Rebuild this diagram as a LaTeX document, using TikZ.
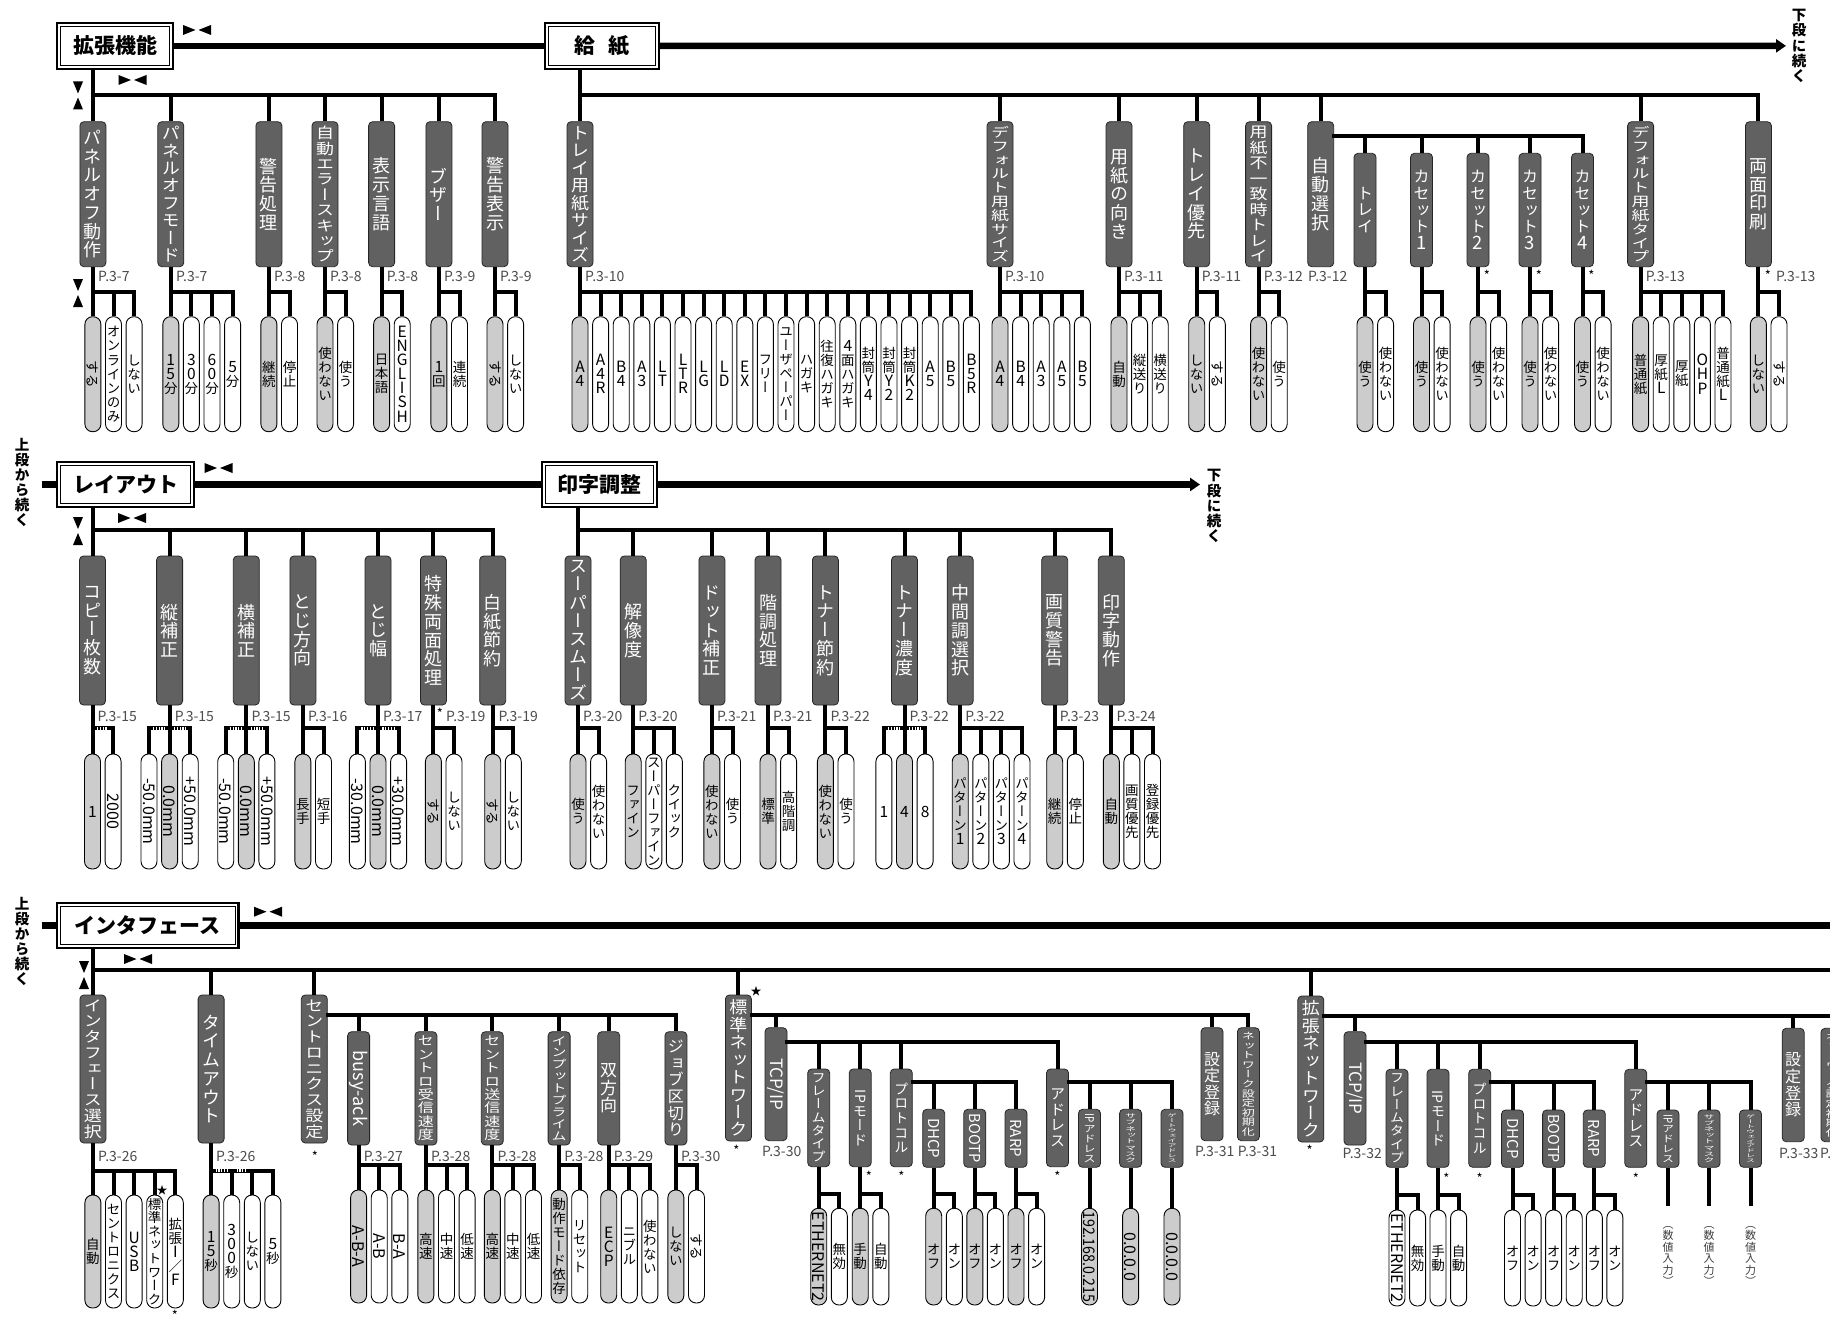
\documentclass[tikz,border=0pt]{standalone}
\usepackage{fontspec}
\usepackage{graphicx}
\setmainfont{Noto Sans CJK JP}
\newfontfamily\jph{Noto Sans CJK JP}
\newfontfamily\jpv[RawFeature=+vert]{Noto Sans CJK JP}
\usetikzlibrary{calc,arrows.meta}
\definecolor{og}{gray}{0.80}
\definecolor{ow}{gray}{1}
\definecolor{catg}{gray}{0.38}

\ExplSyntaxOn
\cs_new:Npn \my_vitem:n #1
  {
    \tl_if_single_token:nTF {#1}
      {
        \token_if_cs:NTF #1 {#1}
          { \int_compare:nNnTF {`#1} < {128} {\scalebox{1.15}{#1}} {#1} }
      }
      {#1}
  }
\NewDocumentCommand\vt{O{1.04}m}{
  \vbox{
    \baselineskip=#1em\relax
    \lineskiplimit=0pt\relax
    \lineskip=0.5pt\relax
    \tl_map_inline:nn {#2} {\hbox_to_wd:nn {1em} {\hss \my_vitem:n {##1} \hss}}
  }
}
\ExplSyntaxOff

\newsavebox\fitbox
\newcommand\fitv[2]{%
  \sbox\fitbox{#2}%
  \dimen0=\ht\fitbox \advance\dimen0 by \dp\fitbox
  \ifdim\dimen0>#1\relax
    \resizebox*{\wd\fitbox}{#1}{\usebox\fitbox}%
  \else\usebox\fitbox\fi}
\newcommand\rt[1]{\rotatebox[origin=c]{-90}{\jph #1}}
\newcommand\rp[1]{\rotatebox[origin=c]{-90}{\fontsize{16}{16}\jph #1}}
\newcommand\pf{\fontsize{13.5}{13.5}\jpv}

\tikzset{
  connv/.style={line width=4pt, line cap=butt, draw=black},
  connh/.style={line width=4pt, line cap=rect, draw=black},
  mainbus/.style={line width=6.5pt, draw=black},
  catbox/.style={draw=black!85, line width=0.8pt, fill=catg, rounded corners=4pt, inner sep=0pt, text=white},
  pillbox/.style={draw=black, line width=0.9pt, rounded corners=7.6pt, minimum width=16pt, inner sep=0pt},
  hdrbox/.style={draw=black, line width=2.2pt, fill=white, inner sep=0pt, font=\fontsize{21}{21}\selectfont\bfseries},
  plab/.style={anchor=west, inner sep=0pt, text=black!70, font=\fontsize{14}{14}\selectfont},
  astk/.style={inner sep=0pt, font=\fontsize{13}{13}\selectfont},
  stark/.style={inner sep=0pt, font=\fontsize{11}{11}\selectfont},
  vlab/.style={inner sep=0pt},
}

% \cat[font]{name}{x}{top}{bottom}{width}{content}
\newcommand\cat[7][18]{%
  \node[catbox, minimum width=#6pt, minimum height={(#5-#4)*1pt}] (#2) at ({#3},{(#4+#5)/2})
    {\fitv{\dimexpr #5pt-#4pt-9pt\relax}{\fontsize{#1}{#1}\jpv #7}};}

% \pill{name}{x}{top}{bottom}{fill}{content}
\newcommand\pill[6]{%
  \node[pillbox, fill=#5, minimum height={(#4-#3)*1pt}] (#1) at ({#2},{(#3+#4)/2})
    {\fitv{\dimexpr #4pt-#3pt-6pt\relax}{\pf #6}};}

% \opts{parent}{x0}{busY}{top}{bottom}{last index}{fill/content,...}
\newcommand\opts[7]{%
  \draw[connv] (#1.south) -- (#1.south |- 0,#3);%
  \foreach \f/\c [count=\i from 0] in {#7}{%
    \pill{#1-\i}{#2+20.6*\i}{#4}{#5}{\f}{\c}%
    \draw[connv] (#1-\i.north) -- (#1-\i.north |- 0,#3);%
  }%
  \draw[connh] (#1-0.north |- 0,#3) -- (#1-#6.north |- 0,#3);%
}
\newcommand\kids[2]{\foreach \n in {#2}{\draw[connv] (\n.north) -- (\n.north |- 0,#1);}}
\newcommand\hdr[6]{%
  \node[hdrbox, minimum width={(#4-#2)*1pt}, minimum height={(#5-#3)*1pt}] (#1) at ({(#2+#4)/2},{(#3+#5)/2}) {#6};
  \draw[line width=0.9pt] ($(#1.north west)+(4.5,4.5)$) rectangle ($(#1.south east)+(-4.5,-4.5)$);}
\newcommand\pl[4]{\node[plab] (#1) at (#2,#3) {#4};}
\newcommand\ak[3]{\node[astk] (#1) at (#2,#3) {*};}
\newcommand\dsh[3]{\draw[white, line width=2.6pt, dash pattern=on 1.2pt off 1.6pt] (#1,#2) -- (#3,#2);}
\newcommand\lrmark[2]{%
  \fill ({#1-14},{#2-5}) -- ({#1-1.5},{#2}) -- ({#1-14},{#2+5}) -- cycle;
  \fill ({#1+14},{#2-5}) -- ({#1+1.5},{#2}) -- ({#1+14},{#2+5}) -- cycle;}
\newcommand\udmark[2]{%
  \fill ({#1-5},{#2-14}) -- ({#1+5},{#2-14}) -- ({#1},{#2-2}) -- cycle;
  \fill ({#1-5},{#2+14}) -- ({#1+5},{#2+14}) -- ({#1},{#2+2}) -- cycle;}
\newcommand\vtext[4]{\node[vlab] (#1) at (#2,#3) {\fontsize{14.5}{14.5}\jpv\bfseries\vt{#4}};}

\begin{document}
\begin{tikzpicture}[x=1pt,y=-1pt]
\useasboundingbox (0,0) rectangle (1830,1319);
\fill[white] (0,0) rectangle (1830,1319);

%================ ROW 1 =================
\hdr{kakucho}{57.3}{22.7}{172.8}{69}{拡張機能}
\hdr{kyushi}{545}{22.7}{659}{69}{給\hspace{14pt}紙}
\coordinate (arr1) at (1786,45.85);
\draw[mainbus] (kakucho.east) -- (kyushi.west);
\draw[mainbus,-{Triangle[length=10pt,width=13pt]}] (kyushi.east) -- (arr1);
\vtext{cont1}{1799}{46}{下段に続く}
\lrmark{197}{30}
\lrmark{132.5}{80}
\udmark{78}{95.5}
\udmark{78}{293}

\cat{k1}{92.9}{121.7}{266.7}{26}{\vt{パネルオフ動作}}
\cat{k2}{170.8}{121.7}{266.7}{26}{\vt{パネルオフモード}}
\cat{k3}{268.9}{121.7}{266.7}{26}{\vt{警告処理}}
\cat{k4}{325}{121.7}{266.7}{26}{\vt{自動エラースキップ}}
\cat{k5}{381.6}{121.7}{266.7}{26}{\vt{表示言語}}
\cat{k6}{438.9}{121.7}{266.7}{26}{\vt{ブザー}}
\cat{k7}{495}{121.7}{266.7}{26}{\vt{警告表示}}
\draw[connv] (kakucho.south -| k1.north) -- (k1.north);
\draw[connh] (k1.north |- 0,95) -- (k7.north |- 0,95);
\kids{95}{k2,k3,k4,k5,k6,k7}

\opts{k1}{92.9}{291.7}{316.7}{431.7}{2}{og/\rt{する},ow/\vt{オンラインのみ},ow/\vt{しない}}
\opts{k2}{170.8}{291.7}{316.7}{431.7}{3}{og/\vt{15分},ow/\vt{30分},ow/\vt{60分},ow/\vt{5分}}
\opts{k3}{268.9}{291.7}{316.7}{431.7}{1}{og/\vt{継続},ow/\vt{停止}}
\opts{k4}{325}{291.7}{316.7}{431.7}{1}{og/\vt{使わない},ow/\vt{使う}}
\opts{k5}{381.6}{291.7}{316.7}{431.7}{1}{og/\vt{日本語},ow/\vt{ENGLISH}}
\opts{k6}{438.9}{291.7}{316.7}{431.7}{1}{og/\vt{1回},ow/\vt{連続}}
\opts{k7}{495}{291.7}{316.7}{431.7}{1}{og/\rt{する},ow/\vt{しない}}
\pl{pk1}{98}{276.7}{P.3-7}
\pl{pk2}{175.8}{276.7}{P.3-7}
\pl{pk3}{273.9}{276.7}{P.3-8}
\pl{pk4}{330}{276.7}{P.3-8}
\pl{pk5}{386.6}{276.7}{P.3-8}
\pl{pk6}{443.9}{276.7}{P.3-9}
\pl{pk7}{500}{276.7}{P.3-9}

\cat{s1}{580}{121.7}{266.7}{26}{\vt{トレイ用紙サイズ}}
\cat{s2}{1000}{121.7}{266.7}{26}{\vt{デフォルト用紙サイズ}}
\cat{s3}{1119}{121.7}{266.7}{26}{\vt{用紙の向き}}
\cat{s4}{1196.7}{121.7}{266.7}{26}{\vt{トレイ優先}}
\cat{s5}{1258.6}{121.7}{266.7}{26}{\vt{用紙不一致時トレイ}}
\cat{s6}{1320.7}{121.7}{266.7}{26}{\vt{自動選択}}
\cat{s7}{1640.6}{121.7}{266.7}{26}{\vt{デフォルト用紙タイプ}}
\cat{s8}{1758.4}{121.7}{266.7}{26}{\vt{両面印刷}}
\draw[connv] (kyushi.south -| s1.north) -- (s1.north);
\draw[connh] (s1.north |- 0,95) -- (s8.north |- 0,95);
\kids{95}{s2,s3,s4,s5,s6,s7,s8}
\cat[16]{a1}{1365}{153.3}{266.7}{22}{\vt{トレイ}}
\cat[16]{a2}{1421.5}{153.3}{266.7}{22}{\vt{カセット1}}
\cat[16]{a3}{1478}{153.3}{266.7}{22}{\vt{カセット2}}
\cat[16]{a4}{1530}{153.3}{266.7}{22}{\vt{カセット3}}
\cat[16]{a5}{1582.5}{153.3}{266.7}{22}{\vt{カセット4}}
\draw[connh] (s6.east |- 0,136) -- (a5.north |- 0,136);
\kids{136}{a1,a2,a3,a4,a5}

\opts{s1}{580}{291.7}{316.7}{431.7}{19}{og/\vt{A4},ow/\vt{A4R},ow/\vt{B4},ow/\vt{A3},ow/\vt{LT},ow/\vt{LTR},ow/\vt{LG},ow/\vt{LD},ow/\vt{EX},ow/\vt{フリー},ow/\vt{ユーザペーパー},ow/\vt{ハガキ},ow/\vt{往復ハガキ},ow/\vt{4面ハガキ},ow/\vt{封筒Y4},ow/\vt{封筒Y2},ow/\vt{封筒K2},ow/\vt{A5},ow/\vt{B5},ow/\vt{B5R}}
\opts{s2}{1000}{291.7}{316.7}{431.7}{4}{og/\vt{A4},ow/\vt{B4},ow/\vt{A3},ow/\vt{A5},ow/\vt{B5}}
\opts{s3}{1119}{291.7}{316.7}{431.7}{2}{og/\vt{自動},ow/\vt{縦送り},ow/\vt{横送り}}
\opts{s4}{1196.7}{291.7}{316.7}{431.7}{1}{og/\vt{しない},ow/\rt{する}}
\opts{s5}{1258.6}{291.7}{316.7}{431.7}{1}{og/\vt{使わない},ow/\vt{使う}}
\opts{a1}{1365}{291.7}{316.7}{431.7}{1}{og/\vt{使う},ow/\vt{使わない}}
\opts{a2}{1421.5}{291.7}{316.7}{431.7}{1}{og/\vt{使う},ow/\vt{使わない}}
\opts{a3}{1478}{291.7}{316.7}{431.7}{1}{og/\vt{使う},ow/\vt{使わない}}
\opts{a4}{1530}{291.7}{316.7}{431.7}{1}{og/\vt{使う},ow/\vt{使わない}}
\opts{a5}{1582.5}{291.7}{316.7}{431.7}{1}{og/\vt{使う},ow/\vt{使わない}}
\opts{s7}{1640.6}{291.7}{316.7}{431.7}{4}{og/\vt{普通紙},ow/\vt{厚紙L},ow/\vt{厚紙},ow/\vt{OHP},ow/\vt{普通紙L}}
\opts{s8}{1758.4}{291.7}{316.7}{431.7}{1}{og/\vt{しない},ow/\rt{する}}
\pl{ps1}{585}{276.7}{P.3-10}
\pl{ps2}{1005}{276.7}{P.3-10}
\pl{ps3}{1124}{276.7}{P.3-11}
\pl{ps4}{1201.7}{276.7}{P.3-11}
\pl{ps5}{1263.6}{276.7}{P.3-12}
\pl{ps6}{1308}{276.7}{P.3-12}
\pl{ps7}{1645.6}{276.7}{P.3-13}
\ak{as8}{1768}{275}
\pl{ps8}{1776}{276.7}{P.3-13}
\ak{aa3}{1487}{275}
\ak{aa4}{1539}{275}
\ak{aa5}{1591.5}{275}

%================ ROW 2 =================
\hdr{layout}{57.3}{461.7}{193.7}{507.3}{レイアウト}
\hdr{inji}{541.7}{461.7}{657.3}{507.3}{印字調整}
\coordinate (stub2) at (41.5,484.5);
\coordinate (arr2) at (1200,484.5);
\draw[mainbus] (stub2) -- (layout.west);
\draw[mainbus] (layout.east) -- (inji.west);
\draw[mainbus,-{Triangle[length=10pt,width=13pt]}] (inji.east) -- (arr2);
\vtext{from2}{22}{482.5}{上段から続く}
\vtext{cont2}{1214}{506}{下段に続く}
\lrmark{218.5}{468}
\lrmark{132}{518}
\udmark{78}{531}

\cat{l1}{92.5}{556}{705}{26}{\vt{コピー枚数}}
\cat{l2}{169.6}{556}{705}{26}{\vt{縦補正}}
\cat{l3}{246.3}{556}{705}{26}{\vt{横補正}}
\cat{l4}{302.9}{556}{705}{26}{\vt{とじ方向}}
\cat{l5}{378}{556}{705}{26}{\vt{とじ幅}}
\cat{l6}{433.4}{556}{705}{26}{\vt{特殊両面処理}}
\cat{l7}{492.7}{556}{705}{26}{\vt{白紙節約}}
\draw[connv] (layout.south -| l1.north) -- (l1.north);
\draw[connh] (l1.north |- 0,530) -- (l7.north |- 0,530);
\kids{530}{l2,l3,l4,l5,l6,l7}

\opts{l1}{92.5}{728.3}{754}{869}{1}{og/\vt{1},ow/\rp{2000}}
\opts{l2}{149}{728.3}{754}{869}{2}{ow/\rp{-50.0mm},og/\rp{0.0mm},ow/\rp{+50.0mm}}
\opts{l3}{225.7}{728.3}{754}{869}{2}{ow/\rp{-50.0mm},og/\rp{0.0mm},ow/\rp{+50.0mm}}
\opts{l4}{302.9}{728.3}{754}{869}{1}{og/\vt{長手},ow/\vt{短手}}
\opts{l5}{357.4}{728.3}{754}{869}{2}{ow/\rp{-30.0mm},og/\rp{0.0mm},ow/\rp{+30.0mm}}
\opts{l6}{433.4}{728.3}{754}{869}{1}{og/\rt{する},ow/\vt{しない}}
\opts{l7}{492.7}{728.3}{754}{869}{1}{og/\rt{する},ow/\vt{しない}}
\dsh{97}{728.3}{108}
\dsh{153}{728.3}{165}\dsh{174}{728.3}{186}
\dsh{229.7}{728.3}{241.7}\dsh{250.7}{728.3}{262.7}
\dsh{361.4}{728.3}{373.4}\dsh{382.4}{728.3}{394.4}
\pl{pl1}{97.5}{716}{P.3-15}
\pl{pl2}{174.6}{716}{P.3-15}
\pl{pl3}{251.3}{716}{P.3-15}
\pl{pl4}{307.9}{716}{P.3-16}
\pl{pl5}{383}{716}{P.3-17}
\ak{al6}{440}{713}
\pl{pl6}{446}{716}{P.3-19}
\pl{pl7}{498.5}{716}{P.3-19}

\cat{i1}{578}{556}{705}{26}{\vt{スーパースムーズ}}
\cat{i2}{633.2}{556}{705}{26}{\vt{解像度}}
\cat{i3}{711.9}{556}{705}{26}{\vt{ドット補正}}
\cat{i4}{768}{556}{705}{26}{\vt{階調処理}}
\cat{i5}{825.4}{556}{705}{26}{\vt{トナー節約}}
\cat{i6}{904.5}{556}{705}{26}{\vt{トナー濃度}}
\cat{i7}{960.2}{556}{705}{26}{\vt{中間調選択}}
\cat{i8}{1054.7}{556}{705}{26}{\vt{画質警告}}
\cat{i9}{1111.3}{556}{705}{26}{\vt{印字動作}}
\draw[connv] (inji.south -| i1.north) -- (i1.north);
\draw[connh] (i1.north |- 0,530) -- (i9.north |- 0,530);
\kids{530}{i2,i3,i4,i5,i6,i7,i8,i9}

\opts{i1}{578}{728.3}{754}{869}{1}{og/\vt{使う},ow/\vt{使わない}}
\opts{i2}{633.2}{728.3}{754}{869}{2}{og/\vt{ファイン},ow/\vt{スーパーファイン},ow/\vt{クイック}}
\opts{i3}{711.9}{728.3}{754}{869}{1}{og/\vt{使わない},ow/\vt{使う}}
\opts{i4}{768}{728.3}{754}{869}{1}{og/\vt{標準},ow/\vt{高階調}}
\opts{i5}{825.4}{728.3}{754}{869}{1}{og/\vt{使わない},ow/\vt{使う}}
\opts{i6}{883.9}{728.3}{754}{869}{2}{ow/\vt{1},og/\vt{4},ow/\vt{8}}
\opts{i7}{960.2}{728.3}{754}{869}{3}{og/\vt{パターン1},ow/\vt{パターン2},ow/\vt{パターン3},ow/\vt{パターン4}}
\opts{i8}{1054.7}{728.3}{754}{869}{1}{og/\vt{継続},ow/\vt{停止}}
\opts{i9}{1111.3}{728.3}{754}{869}{2}{og/\vt{自動},ow/\vt{画質優先},ow/\vt{登録優先}}
\dsh{887.9}{728.3}{899.9}\dsh{908.9}{728.3}{920.9}
\pl{pi1}{583}{716}{P.3-20}
\pl{pi2}{638.2}{716}{P.3-20}
\pl{pi3}{716.9}{716}{P.3-21}
\pl{pi4}{773}{716}{P.3-21}
\pl{pi5}{830.4}{716}{P.3-22}
\pl{pi6}{909.5}{716}{P.3-22}
\pl{pi7}{965.2}{716}{P.3-22}
\pl{pi8}{1059.7}{716}{P.3-23}
\pl{pi9}{1116.3}{716}{P.3-24}

%================ ROW 3 =================
\hdr{intf}{57.3}{902.7}{238.4}{948.3}{インタフェース}
\coordinate (stub3) at (41.5,925.5);
\coordinate (end3) at (1836,925.5);
\draw[mainbus] (stub3) -- (intf.west);
\draw[mainbus] (intf.east) -- (end3);
\vtext{from3}{22}{941.5}{上段から続く}
\lrmark{268}{911.7}
\lrmark{138}{959}
\udmark{84}{975}

\cat{f1}{92.9}{995}{1143}{26}{\vt{インタフェース選択}}
\cat{f2}{211.1}{995}{1143}{26}{\vt{タイムアウト}}
\cat{f3}{314.3}{995}{1143}{26}{\vt{セントロニクス設定}}
\cat{f4}{738.4}{995}{1141}{26}{\vt{標準ネットワーク}}
\cat{f5}{1310.8}{996}{1142}{26}{\vt{拡張ネットワーク}}
\coordinate (end3b) at (1836,969.5);
\draw[connv] (intf.south -| f1.north) -- (f1.north);
\draw[connh] (f1.north |- 0,969.5) -- (end3b);
\kids{969.5}{f2,f3,f4,f5}

\opts{f1}{92.9}{1170.7}{1195}{1308}{4}{og/\vt{自動},ow/\vt{セントロニクス},ow/\vt{USB},ow/\vt{標準ネットワーク},ow/\vt{拡張I{\jph ／}F}}
\opts{f2}{211.1}{1170.7}{1195}{1308}{3}{og/\vt{15秒},ow/\vt{300秒},ow/\vt{しない},ow/\vt{5秒}}
\dsh{215.5}{1170.7}{227}\dsh{236.5}{1170.7}{247.5}
\node[stark] (st1) at (162,1190) {★};
\ak{af1}{175}{1315}
\pl{pf1}{98}{1156}{P.3-26}
\pl{pf2}{216}{1156}{P.3-26}
\ak{af3}{315}{1156}

\cat[18]{c1}{358.6}{1031.7}{1145}{22}{\rt{busy-ack}}
\cat[16]{c2}{425.9}{1031.7}{1145}{22}{\vt{セントロ受信速度}}
\cat[16]{c3}{492.3}{1031.7}{1145}{22}{\vt{セントロ送信速度}}
\cat[15]{c4}{559.1}{1031.7}{1145}{22}{\vt{インプットプライム}}
\cat[17]{c5}{608.7}{1031.7}{1145}{22}{\vt{双方向}}
\cat[16]{c6}{675.9}{1031.7}{1145}{22}{\vt{ジョブ区切り}}
\draw[connh] (f3.east |- 0,1015) -- (c6.north |- 0,1015);
\kids{1015}{c1,c2,c3,c4,c5,c6}
\opts{c1}{358.6}{1165}{1190}{1303}{2}{og/\rp{A-B-A},ow/\rp{A-B},ow/\rp{B-A}}
\opts{c2}{425.9}{1165}{1190}{1303}{2}{og/\vt{高速},ow/\vt{中速},ow/\vt{低速}}
\opts{c3}{492.3}{1165}{1190}{1303}{2}{og/\vt{高速},ow/\vt{中速},ow/\vt{低速}}
\opts{c4}{559.1}{1165}{1190}{1303}{1}{og/\vt{動作モード依存},ow/\vt{リセット}}
\opts{c5}{608.7}{1165}{1190}{1303}{2}{og/\vt{ECP},ow/\vt{ニブル},ow/\vt{使わない}}
\opts{c6}{675.9}{1165}{1190}{1303}{1}{og/\vt{しない},ow/\rt{する}}
\pl{pc1}{363.6}{1156}{P.3-27}
\pl{pc2}{430.9}{1156}{P.3-28}
\pl{pc3}{497.3}{1156}{P.3-28}
\pl{pc4}{564.1}{1156}{P.3-28}
\pl{pc5}{613.7}{1156}{P.3-29}
\pl{pc6}{680.9}{1156}{P.3-30}

% standard network
\ak{af4}{736.4}{1150}
\node[stark] (st2) at (756,991.7) {★};
\cat[17]{n1}{776}{1027.7}{1140.7}{22}{\rt{TCP/IP}}
\cat[16]{n2}{1212}{1027.7}{1140.7}{22}{\vt{設定登録}}
\cat[13]{n3}{1248.4}{1027.7}{1140.7}{22}{\vt{ネットワーク設定初期化}}
\draw[connh] (f4.east |- 0,1015) -- (n3.north |- 0,1015);
\kids{1015}{n1,n2,n3}
\pl{pn1}{762}{1151}{P.3-30}
\pl{pn2}{1195}{1151.7}{P.3-31}
\pl{pn3}{1237.7}{1151.7}{P.3-31}
\cat[14]{t1}{818.7}{1069}{1166.7}{22}{\vt{フレームタイプ}}
\cat[14]{t2}{860.2}{1069}{1166.7}{22}{\vt{{\rt{IP}}モード}}
\cat[14]{t3}{901.3}{1069}{1166.7}{22}{\vt{プロトコル}}
\cat[15]{t4}{1057.5}{1069}{1166.7}{22}{\vt{アドレス}}
\draw[connh] (n1.east |- 0,1042.3) -- (t4.north |- 0,1042.3);
\kids{1042.3}{t1,t2,t3,t4}
\cat[15]{r1}{933.7}{1109.3}{1167.3}{22}{\rt{DHCP}}
\cat[15]{r2}{974.8}{1109.3}{1167.3}{22}{\rt{BOOTP}}
\cat[15]{r3}{1016}{1109.3}{1167.3}{22}{\rt{RARP}}
\draw[connh] (t3.east |- 0,1082.3) -- (r3.north |- 0,1082.3);
\kids{1082.3}{r1,r2,r3}
\cat[12]{d1}{1089.5}{1109.3}{1167.3}{22}{\vt{{\rt{IP}}アドレス}}
\cat[11]{d2}{1130.6}{1109.3}{1167.3}{22}{\vt{サブネットマスク}}
\cat[9]{d3}{1172}{1109.3}{1167.3}{22}{\vt{ゲートウェイアドレス}}
\draw[connh] (t4.east |- 0,1082.3) -- (d3.north |- 0,1082.3);
\kids{1082.3}{d1,d2,d3}
\opts{t1}{818.7}{1194}{1208.3}{1305}{1}{og/\rp{ETHERNET2},ow/\vt{無効}}
\opts{t2}{860.2}{1194}{1208.3}{1305}{1}{og/\vt{手動},ow/\vt{自動}}
\opts{r1}{933.7}{1194}{1208.3}{1305}{1}{og/\vt{オフ},ow/\vt{オン}}
\opts{r2}{974.8}{1194}{1208.3}{1305}{1}{og/\vt{オフ},ow/\vt{オン}}
\opts{r3}{1016}{1194}{1208.3}{1305}{1}{og/\vt{オフ},ow/\vt{オン}}
\opts{d1}{1089.5}{1194}{1208.3}{1305}{0}{og/\rp{192.168.0.215}}
\opts{d2}{1130.6}{1194}{1208.3}{1305}{0}{og/\rp{0.0.0.0}}
\opts{d3}{1172}{1194}{1208.3}{1305}{0}{og/\rp{0.0.0.0}}
\ak{at2}{869}{1176.7}
\ak{at3}{901.3}{1176.7}
\ak{at4}{1057.5}{1176.7}

% extended network
\ak{af5}{1309.6}{1150}
\cat[17]{e1}{1355}{1031.7}{1145}{22}{\rt{TCP/IP}}
\cat[16]{e2}{1793.2}{1028.3}{1141.7}{22}{\vt{設定登録}}
\cat[13]{e3}{1832}{1028.3}{1141.7}{22}{\vt{ネットワーク設定初期化}}
\coordinate (end3c) at (1836,1015.7);
\draw[connh] (f5.east |- 0,1015.7) -- (end3c);
\kids{1015.7}{e1,e2,e3}
\pl{pe1}{1342.5}{1153}{P.3-32}
\pl{pe2}{1779}{1153}{P.3-33}
\pl{pe3}{1820}{1153}{P.}
\cat[14]{u1}{1397}{1069.3}{1167.3}{22}{\vt{フレームタイプ}}
\cat[14]{u2}{1438}{1069.3}{1167.3}{22}{\vt{{\rt{IP}}モード}}
\cat[14]{u3}{1479.7}{1069.3}{1167.3}{22}{\vt{プロトコル}}
\cat[15]{u4}{1635.8}{1069.3}{1167.3}{22}{\vt{アドレス}}
\draw[connh] (e1.east |- 0,1042.3) -- (u4.north |- 0,1042.3);
\kids{1042.3}{u1,u2,u3,u4}
\cat[15]{v1}{1512.5}{1110}{1167.3}{22}{\rt{DHCP}}
\cat[15]{v2}{1553.6}{1110}{1167.3}{22}{\rt{BOOTP}}
\cat[15]{v3}{1594.3}{1110}{1167.3}{22}{\rt{RARP}}
\draw[connh] (u3.east |- 0,1082.3) -- (v3.north |- 0,1082.3);
\kids{1082.3}{v1,v2,v3}
\cat[12]{w1}{1668}{1110}{1167.3}{22}{\vt{{\rt{IP}}アドレス}}
\cat[11]{w2}{1709}{1110}{1167.3}{22}{\vt{サブネットマスク}}
\cat[9]{w3}{1750.5}{1110}{1167.3}{22}{\vt{ゲートウェイアドレス}}
\draw[connh] (u4.east |- 0,1082.3) -- (w3.north |- 0,1082.3);
\kids{1082.3}{w1,w2,w3}
\opts{u1}{1397}{1195}{1210}{1306}{1}{ow/\rp{ETHERNET2},ow/\vt{無効}}
\opts{u2}{1438}{1195}{1210}{1306}{1}{ow/\vt{手動},ow/\vt{自動}}
\opts{v1}{1512.5}{1195}{1210}{1306}{1}{ow/\vt{オフ},ow/\vt{オン}}
\opts{v2}{1553.6}{1195}{1210}{1306}{1}{ow/\vt{オフ},ow/\vt{オン}}
\opts{v3}{1594.3}{1195}{1210}{1306}{1}{ow/\vt{オフ},ow/\vt{オン}}
\ak{au2}{1446.5}{1178}
\ak{au3}{1479.7}{1178}
\ak{au4}{1635.8}{1178}
\foreach \w in {w1,w2,w3}{\draw[connv] (\w.south) -- (\w.south |- 0,1206);}
\node[vlab, text=black!75] (wt1) at (1668,1256) {\fontsize{11}{11}\jpv\vt{（数値入力）}};
\node[vlab, text=black!75] (wt2) at (1709,1256) {\fontsize{11}{11}\jpv\vt{（数値入力）}};
\node[vlab, text=black!75] (wt3) at (1750.5,1256) {\fontsize{11}{11}\jpv\vt{（数値入力）}};
\end{tikzpicture}
\end{document}
